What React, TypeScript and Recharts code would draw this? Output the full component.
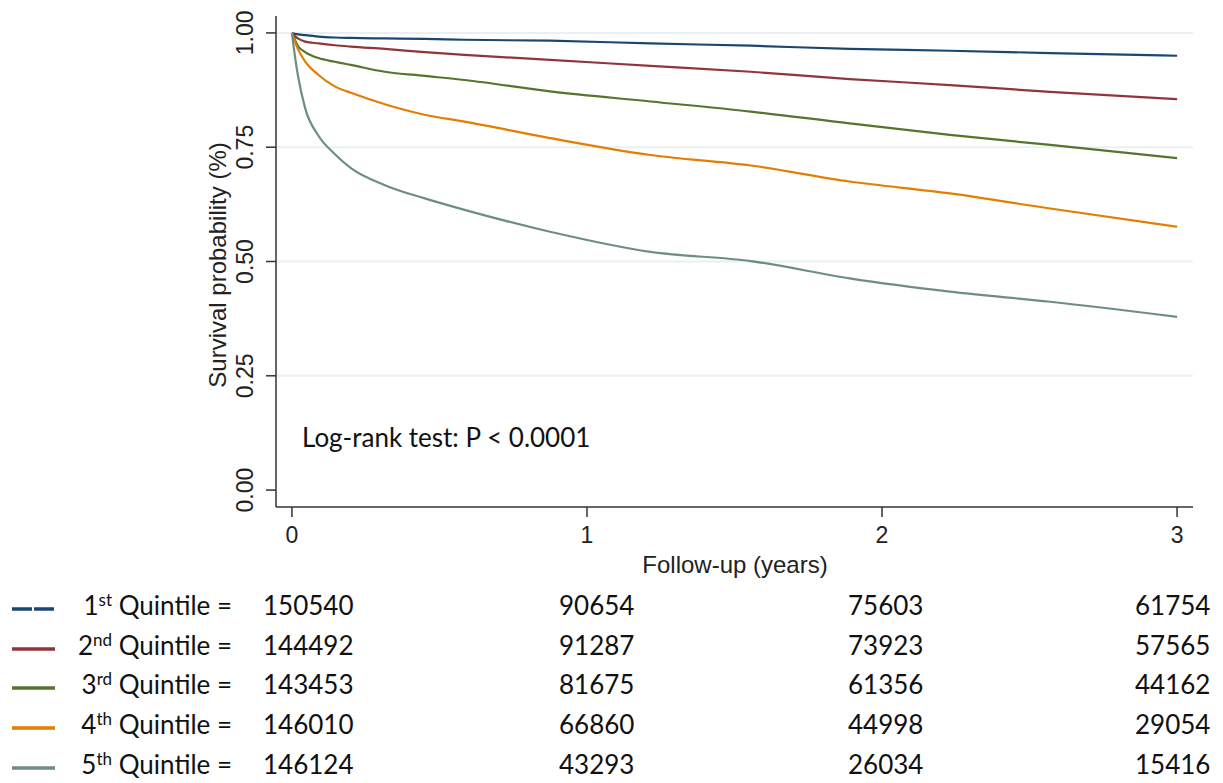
import React from 'react';
import { LineChart, Line, XAxis, YAxis, ReferenceLine } from 'recharts';

// follow-up time (years) and survival per quintile
const years = [0, 0.01, 0.02, 0.045, 0.09, 0.145, 0.2, 0.315, 0.45, 0.585, 0.875, 1.215, 1.555, 1.89, 2.23, 2.57, 3];
const q1 = [1.0, 0.998, 0.997, 0.995, 0.992, 0.99, 0.989, 0.988, 0.987, 0.985, 0.983, 0.977, 0.972, 0.965, 0.961, 0.956, 0.95];
const q2 = [1.0, 0.993, 0.988, 0.981, 0.977, 0.973, 0.97, 0.965, 0.958, 0.952, 0.941, 0.928, 0.915, 0.899, 0.886, 0.871, 0.855];
const q3 = [1.0, 0.985, 0.972, 0.958, 0.945, 0.937, 0.93, 0.915, 0.906, 0.897, 0.872, 0.85, 0.828, 0.802, 0.777, 0.755, 0.726];
const q4 = [1.0, 0.981, 0.965, 0.937, 0.908, 0.883, 0.869, 0.844, 0.821, 0.806, 0.77, 0.733, 0.71, 0.675, 0.649, 0.616, 0.576];
const q5 = [1.0, 0.95, 0.908, 0.835, 0.775, 0.735, 0.704, 0.667, 0.638, 0.613, 0.565, 0.521, 0.501, 0.463, 0.434, 0.412, 0.379];

const xTicks = [0, 1, 2, 3];
const yTicks = [0, 0.25, 0.5, 0.75, 1];
const gridValues = [0.25, 0.5, 0.75, 1];

// number at risk table
const ordinals = ['1', '2', '3', '4', '5'];
const suffixes = ['st', 'nd', 'rd', 'th', 'th'];
const atRisk0 = [150540, 144492, 143453, 146010, 146124];
const atRisk1 = [90654, 91287, 81675, 66860, 43293];
const atRisk2 = [75603, 73923, 61356, 44998, 26034];
const atRisk3 = [61754, 57565, 44162, 29054, 15416];

const colors = ['#1a476f', '#90353b', '#55752f', '#e37e00', '#6e8e84'];
const keys = ['q1', 'q2', 'q3', 'q4', 'q5'];

const data = years.map((t, i) => ({ t, q1: q1[i], q2: q2[i], q3: q3[i], q4: q4[i], q5: q5[i] }));

const tickFont = '"Liberation Sans", Arial, sans-serif';
const tableFont = 'Lato, "Open Sans", sans-serif';

const YTick = (props: any) => {
  const { x, y, payload } = props;
  return (
    <text
      transform={`translate(${x - 11},${y}) rotate(-90)`}
      textAnchor="middle"
      fontSize={23}
      fontFamily={tickFont}
      fill="#222"
    >
      {payload.value.toFixed(2)}
    </text>
  );
};

const XTick = (props: any) => {
  const { x, y, payload } = props;
  return (
    <text x={x} y={y + 24} textAnchor="middle" fontSize={23} fontFamily={tickFont} fill="#222">
      {payload.value}
    </text>
  );
};

const rowBase = [615, 655, 694, 734, 774];
const colX = [263, 559, 848, 1135];

export default function App() {
  const cols = [atRisk0, atRisk1, atRisk2, atRisk3];
  return (
    <div style={{ position: 'absolute', left: 0, top: 0, width: 1223, height: 783, background: '#fff' }}>
      <LineChart width={1223} height={783} data={data} margin={{ top: 16, right: 30, left: 196, bottom: 216 }}>
        {gridValues.map((v) => (
          <ReferenceLine key={v} y={v} stroke="#eaf0f2" strokeWidth={2} />
        ))}
        <XAxis
          dataKey="t"
          type="number"
          domain={[-0.054, 3.054]}
          ticks={xTicks}
          allowDataOverflow
          height={60}
          tickSize={10}
          tickMargin={2}
          stroke="#333"
          strokeWidth={1.5}
          tick={<XTick />}
        />
        <YAxis
          type="number"
          domain={[-0.037, 1.037]}
          ticks={yTicks}
          allowDataOverflow
          width={80}
          tickSize={10}
          tickMargin={2}
          stroke="#333"
          strokeWidth={1.5}
          tick={<YTick />}
        />
        {keys.map((k, i) => (
          <Line
            key={k}
            dataKey={k}
            type="monotone"
            stroke={colors[i]}
            strokeWidth={2.2}
            dot={false}
            isAnimationActive={false}
          />
        ))}
      </LineChart>

      <svg
        width={1223}
        height={783}
        style={{ position: 'absolute', left: 0, top: 0, pointerEvents: 'none' }}
      >
        <text
          transform="translate(226,265) rotate(-90)"
          textAnchor="middle"
          fontSize={24}
          fontFamily={tickFont}
          fill="#222"
        >
          Survival probability (%)
        </text>
        <text x={735} y={573} textAnchor="middle" fontSize={24} fontFamily={tickFont} fill="#222">
          Follow-up (years)
        </text>
        <text x={302} y={447} fontSize={26} fontFamily={tableFont} fill="#111">
          Log-rank test: P &lt; 0.0001
        </text>

        {ordinals.map((o, i) => (
          <g key={o}>
            <line
              x1={12}
              x2={55}
              y1={rowBase[i] - 6}
              y2={rowBase[i] - 6}
              stroke={colors[i]}
              strokeWidth={3.5}
              strokeDasharray={i === 0 ? '20 2' : undefined}
            />
            <text x={232} y={rowBase[i]} textAnchor="end" fontSize={26} fontFamily={tableFont} fill="#111">
              <tspan>{o}</tspan>
              <tspan dy={-9} fontSize={17}>
                {suffixes[i]}
              </tspan>
              <tspan dy={9}> Quintile =</tspan>
            </text>
            {cols.map((c, j) => (
              <text key={j} x={colX[j]} y={rowBase[i]} fontSize={26} fontFamily={tableFont} fill="#111">
                {c[i]}
              </text>
            ))}
          </g>
        ))}
      </svg>
    </div>
  );
}
